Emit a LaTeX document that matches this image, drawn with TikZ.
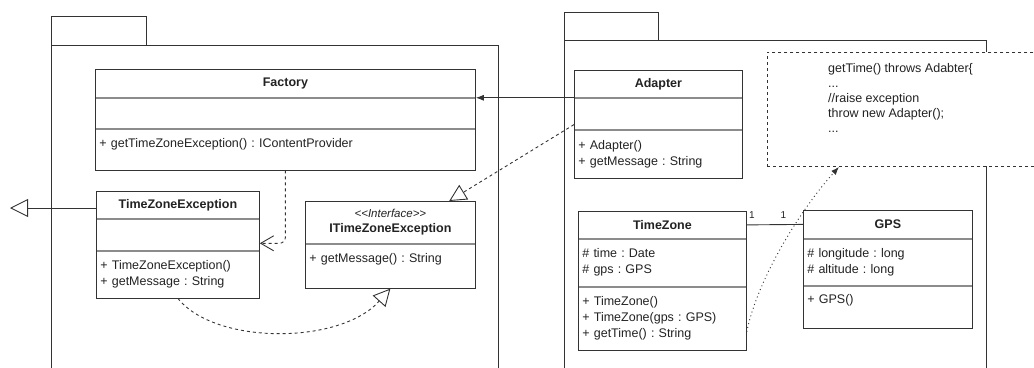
\documentclass[tikz,border=0pt]{standalone}
\usepackage{fontspec}
\setmainfont{Liberation Sans}
\usepackage{tikz}
\usetikzlibrary{arrows.meta}
\usetikzlibrary{positioning}
\frenchspacing

\definecolor{umlline}{HTML}{333333}
\definecolor{umldiv}{HTML}{8C8C8C}
\definecolor{umltext}{HTML}{222222}

\begin{document}
\begin{tikzpicture}[x=1pt, y=-1pt,
    node distance = 0mm,
every node/.style = {inner sep=0pt, text=umltext,
                     font=\fontsize{12.5}{16}\selectfont},
    clsname/.style = {draw=umldiv, line width=0.8pt, minimum height=#1,
                      font=\fontsize{12.5}{15}\selectfont\bfseries, align=center},
    clssec/.style  = {draw=umldiv, line width=0.8pt, minimum height=#1,
                      inner xsep=4pt, align=left},
    clsbox/.style  = {draw=umlline, line width=1pt},
    pkgbox/.style  = {draw=umlline, line width=1pt},
    notebox/.style = {draw=umlline, line width=0.9pt, fill=white,
                      dash pattern=on 3pt off 3pt},
    assoc/.style   = {draw=umlline, line width=0.9pt},
    navarrow/.style   = {assoc, -{Latex[length=8pt,width=6pt]}},
    realize/.style    = {assoc, dash pattern=on 3pt off 3pt,
                         -{Triangle[open,length=17pt,width=17pt]}},
    depend/.style     = {assoc, dash pattern=on 3pt off 3pt,
                         -{Straight Barb[length=13pt,width=15pt]}},
    generalize/.style = {assoc, -{Triangle[open,length=18pt,width=18pt]}},
    notelink/.style   = {assoc, dash pattern=on 1pt off 3pt,
                         -{Latex[length=8pt,width=6pt]}},
    mult/.style    = {font=\fontsize{10}{12}\selectfont}]
\useasboundingbox (0,0) rectangle (1034,367);

% packages
\node[pkgbox, minimum width=95pt, minimum height=29pt,
      anchor=north west]                          (leftTab)  at (51,16)  {};
\node[pkgbox, minimum width=447pt, minimum height=340pt,
      anchor=north west]                          (leftPkg)  at (51,45)  {};
\node[pkgbox, minimum width=94pt, minimum height=28pt,
      anchor=north west]                          (rightTab) at (564,12) {};
\node[pkgbox, minimum width=422pt, minimum height=340pt,
      anchor=north west]                          (rightPkg) at (564,40) {};

% Factory
\node[clsname=28pt, minimum width=380pt, anchor=north west] (fac) at (95,69) {Factory};
\node[clssec=30pt, text width=372pt, below=of fac]          (facAttr) {};
\node[clssec=41pt, text width=372pt, text depth=13pt,
      below=of facAttr]                                     (facOps)
     {+ getTimeZoneException() : IContentProvider};
\draw[clsbox] (fac.north west) rectangle (facOps.south east);

% TimeZoneException
\node[clsname=27pt, minimum width=163pt, anchor=north west] (tze) at (96,191) {TimeZoneException};
\node[clssec=31pt, text width=155pt, below=of tze]          (tzeAttr) {};
\node[clssec=47pt, text width=155pt, below=of tzeAttr]      (tzeOps)
     {+ TimeZoneException()\\+ getMessage : String};
\draw[clsbox] (tze.north west) rectangle (tzeOps.south east);

% ITimeZoneException
\node[clsname=42pt, minimum width=170pt, anchor=north west] (itze) at (305,201)
     {{\normalfont\itshape\fontsize{11.5}{15}\selectfont <\kern0pt<Interface>\kern0pt>}\\ITimeZoneException};
\node[clssec=44pt, text width=162pt, text depth=16pt,
      below=of itze]                                        (itzeOps)
     {+ getMessage() : String};
\draw[clsbox] (itze.north west) rectangle (itzeOps.south east);

% Adapter
\node[clsname=27pt, minimum width=168pt, anchor=north west] (adp) at (574,70) {Adapter};
\node[clssec=31pt, text width=160pt, below=of adp]          (adpAttr) {};
\node[clssec=48pt, text width=160pt, below=of adpAttr]      (adpOps)
     {+ Adapter()\\+ getMessage : String};
\draw[clsbox] (adp.north west) rectangle (adpOps.south east);

% TimeZone
\node[clsname=27pt, minimum width=168pt, anchor=north west] (tz) at (578,211) {TimeZone};
\node[clssec=47pt, text width=160pt, below=of tz]           (tzAttr)
     {\# time : Date\\\# gps : GPS};
\node[clssec=63pt, text width=160pt, below=of tzAttr]       (tzOps)
     {+ TimeZone()\\+ TimeZone(gps : GPS)\\+ getTime() : String};
\draw[clsbox] (tz.north west) rectangle (tzOps.south east);

% GPS
\node[clsname=28pt, minimum width=169pt, anchor=north west] (gps) at (803,210) {GPS};
\node[clssec=46pt, text width=161pt, below=of gps]          (gpsAttr)
     {\# longitude : long\\\# altitude : long};
\node[clssec=42pt, text width=161pt, text depth=16pt,
      below=of gpsAttr]                                     (gpsOps)
     {+ GPS()};
\draw[clsbox] (gps.north west) rectangle (gpsOps.south east);

% note
\node[notebox, minimum width=280pt, minimum height=114pt,
      anchor=north west]                          (note) at (767,52) {};
\node[below right=11pt and 61pt of note.north west, align=left,
      font=\fontsize{12.5}{15}\selectfont]        (noteText)
     {getTime() throws Adabter\{\\...\\//raise exception\\throw new Adapter();\\...};

% relations
\coordinate (super) at (10,208);
\draw[generalize] (super -| tze.west) -- (super);
\draw[navarrow] (adpAttr.north west) -- (facAttr.north east);
\draw[realize] (adpAttr.south west) ++(0,-5) -- (itze.20);
\draw[depend, rounded corners=6pt] (facOps.south) |- (tzeAttr.-6);
\draw[realize] (tzeOps.south) .. controls (215,345) and (340,345) .. (itzeOps.south);
\draw[assoc] (tz.east) -- node[mult, pos=0.09, above=6pt] {1}
                          node[mult, pos=0.65, above=6pt] {1} (gps.west);
\draw[notelink] (tzOps.-9) .. controls (757,280) and (800,210) .. (note.220);
    \end{tikzpicture}
\end{document}
